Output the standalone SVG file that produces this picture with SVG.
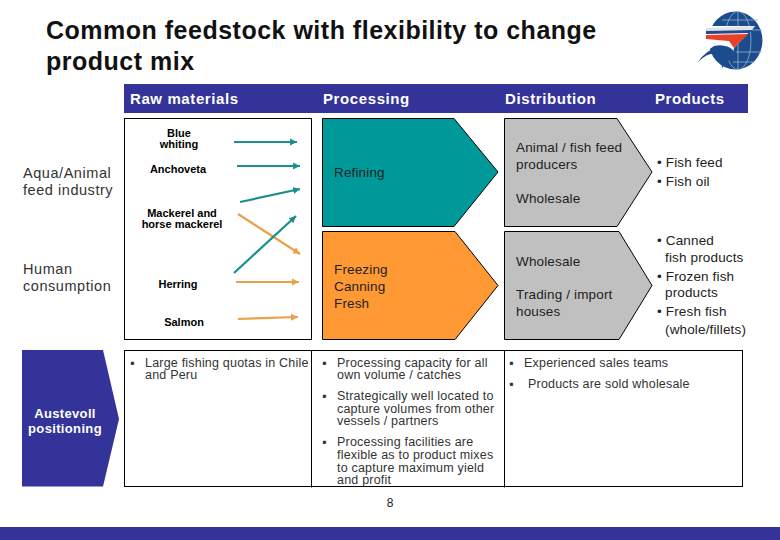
<svg xmlns="http://www.w3.org/2000/svg" width="780" height="540" viewBox="0 0 780 540">
<style>
text{font-family:"Liberation Sans",Arial,sans-serif;fill:#111}
.ti{font-size:25px;font-weight:bold;fill:#111;letter-spacing:.5px}
.h{font-size:15px;font-weight:bold;fill:#fff;letter-spacing:.6px}
.t{font-size:14.5px;fill:#333;letter-spacing:.55px}
.d{font-size:13.5px;fill:#222;letter-spacing:.15px}
.f{font-size:11px;font-weight:bold;text-anchor:middle;fill:#000}
.s{font-size:12.5px;fill:#333;letter-spacing:.2px}
.a{font-size:13px;font-weight:bold;fill:#fff;text-anchor:middle;letter-spacing:.35px}
.box{fill:#fff;stroke:#000;stroke-width:1}
.teal{fill:none;stroke:#1a8f8c;stroke-width:2.2}
.or{fill:none;stroke:#eba04a;stroke-width:2.2}
.ch{stroke:#000;stroke-width:1}
</style>
<defs>
<marker id="at" markerUnits="userSpaceOnUse" markerWidth="9" markerHeight="8" refX="7" refY="4" orient="auto"><path d="M0 .5L7 4L0 7.5Z" fill="#1a8f8c"/></marker>
<marker id="ao" markerUnits="userSpaceOnUse" markerWidth="9" markerHeight="8" refX="7" refY="4" orient="auto"><path d="M0 .5L7 4L0 7.5Z" fill="#eba04a"/></marker>
</defs>
<rect width="780" height="540" fill="#fff"/>
<g id="title"><text class="ti" x="46" y="39">Common feedstock with flexibility to change</text><text class="ti" x="46" y="70">product mix</text></g>
<g id="logo">
<ellipse cx="735.5" cy="40.5" rx="27" ry="29" fill="#1c4c8c"/>
<g fill="none" stroke="#8fb4d4" stroke-width=".8"><ellipse cx="738" cy="40.5" rx="13" ry="29"/><path d="M738 12V69M722 20H758M736 52H762M733 62H754M752 30H762"/></g>
<path d="M700 26H706L755 26L734 48L733 53Q728 43 714 46L700 56Z" fill="#fff"/>
<path d="M706 28L755 26L752 30L706 31Z" fill="#dfe3ea"/>
<path d="M706 31L752 30L749 33L706 34Z" fill="#1c4c8c"/>
<path d="M706 35L748 34L734 48L729 41L706 39Z" fill="#e8412a"/>
<path d="M698 62Q706 50 718 47Q730 44 734 52L733 56L722 68Q722 57 716 54Q708 52 698 62Z" fill="#1c4c8c"/>
</g>
<g id="header">
<rect x="124" y="84" width="624" height="29" fill="#333399"/>
<text class="h" x="130" y="104">Raw materials</text>
<text class="h" x="323" y="104">Processing</text>
<text class="h" x="505" y="104">Distribution</text>
<text class="h" x="655" y="104">Products</text>
</g>
<g id="sectors">
<text class="t" x="23" y="178">Aqua/Animal</text><text class="t" x="23" y="195">feed industry</text>
<text class="t" x="23" y="274">Human</text><text class="t" x="23" y="291">consumption</text>
</g>
<g id="raw-materials">
<rect class="box" x="124.5" y="118.5" width="187" height="221"/>
<text class="f" x="179" y="137">Blue</text><text class="f" x="179" y="148">whiting</text>
<text class="f" x="178" y="173">Anchoveta</text>
<text class="f" x="182" y="217">Mackerel and</text><text class="f" x="182" y="228">horse mackerel</text>
<text class="f" x="178" y="288">Herring</text>
<text class="f" x="184" y="326">Salmon</text>
</g>
<g id="connectors">
<path class="teal" marker-end="url(#at)" d="M234 142H297"/>
<path class="teal" marker-end="url(#at)" d="M237 166H300"/>
<path class="teal" marker-end="url(#at)" d="M240 202L300 189"/>
<path class="or" marker-end="url(#ao)" d="M238 214L300 254"/>
<path class="teal" marker-end="url(#at)" d="M234 273L296 216"/>
<path class="or" marker-end="url(#ao)" d="M236 282H299"/>
<path class="or" marker-end="url(#ao)" d="M238 319L298 317"/>
</g>
<g id="processing-refining"><path class="ch" fill="#009999" d="M322.5 118.5H454L498 172L454 226.5H322.5Z"/><text class="d" x="334" y="177">Refining</text></g>
<g id="processing-human"><path class="ch" fill="#ff9933" d="M322.5 231.5H455L498 285.5L455 339.5H322.5Z"/><text class="d" x="334" y="274">Freezing</text><text class="d" x="334" y="291">Canning</text><text class="d" x="334" y="308">Fresh</text></g>
<g id="distribution-feed"><path class="ch" fill="#c0c0c0" d="M504.5 118.5H617L652 172L617 226.5H504.5Z"/><text class="d" x="516" y="152">Animal / fish feed</text><text class="d" x="516" y="169">producers</text><text class="d" x="516" y="203">Wholesale</text></g>
<g id="distribution-human"><path class="ch" fill="#c0c0c0" d="M504.5 231.5H619L652 285.5L619 339.5H504.5Z"/><text class="d" x="516" y="266">Wholesale</text><text class="d" x="516" y="299">Trading / import</text><text class="d" x="516" y="316">houses</text></g>
<g id="products-feed"><text class="d" x="657" y="167">• Fish feed</text><text class="d" x="657" y="186">• Fish oil</text></g>
<g id="products-human">
<text class="d" x="657" y="245">• Canned</text><text class="d" x="665" y="262">fish products</text>
<text class="d" x="657" y="281">• Frozen fish</text><text class="d" x="665" y="297">products</text>
<text class="d" x="657" y="316">• Fresh fish</text><text class="d" x="665" y="334">(whole/fillets)</text>
</g>
<g id="austevoll"><path fill="#333399" d="M22 350H103L119 419L103 486.5H22Z"/><text class="a" x="65" y="418">Austevoll</text><text class="a" x="65" y="433">positioning</text></g>
<g id="positioning">
<rect class="box" x="124.5" y="350.5" width="618" height="136"/>
<path d="M311.5 350.5V487.5M504.5 350.5V487.5" stroke="#000" fill="none"/>
<text class="s" x="130" y="367">▪</text><text class="s" x="145" y="367">Large fishing quotas in Chile</text><text class="s" x="145" y="379">and Peru</text>
<text class="s" x="322" y="367">▪</text><text class="s" x="337" y="367">Processing capacity for all</text><text class="s" x="337" y="379">own volume / catches</text>
<text class="s" x="322" y="400">▪</text><text class="s" x="337" y="400">Strategically well located to</text><text class="s" x="337" y="413">capture volumes from other</text><text class="s" x="337" y="425">vessels / partners</text>
<text class="s" x="322" y="446">▪</text><text class="s" x="337" y="446">Processing facilities are</text><text class="s" x="337" y="459">flexible as to product mixes</text><text class="s" x="337" y="472">to capture maximum yield</text><text class="s" x="337" y="484">and profit</text>
<text class="s" x="509" y="367">▪</text><text class="s" x="524" y="367">Experienced sales teams</text>
<text class="s" x="509" y="388">▪</text><text class="s" x="528" y="388">Products are sold wholesale</text>
</g>
<g id="footer"><text x="390" y="507" style="font-size:12px;fill:#222;text-anchor:middle">8</text><rect x="0" y="527" width="780" height="13" fill="#333399"/></g>
</svg>
